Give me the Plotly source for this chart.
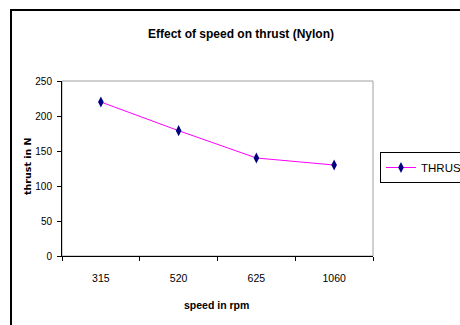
import plotly.graph_objects as go

speeds = ["315", "520", "625", "1060"]
thrust = [220, 179, 140, 130]
series_name = "THRUST In N"
title_text = "Effect of speed on thrust (Nylon)"
x_title = "speed in rpm"
y_title = "thrust in N"

W, H = 460, 325
def px(x): return x / W
def py(y): return (H - y) / H

fig = go.Figure()
fig.add_trace(go.Scatter(
    x=speeds, y=thrust, mode="lines+markers", name=series_name,
    line=dict(color="#FF00FF", width=1),
    marker=dict(symbol="diamond-tall", size=8, color="#000080",
                line=dict(color="#000080", width=0)),
))

font = "Liberation Sans, Arial, sans-serif"
fig.update_layout(
    width=W, height=H,
    margin=dict(l=0, r=0, t=0, b=0, autoexpand=False),
    paper_bgcolor="white", plot_bgcolor="white",
    showlegend=True,
    legend=dict(x=px(380), y=py(167.5), xanchor="left", yanchor="middle",
                bordercolor="black", borderwidth=1, bgcolor="white",
                itemwidth=30,
                font=dict(family=font, size=11.5, color="black")),
    xaxis=dict(domain=[px(62), px(373)], type="category", range=[-0.5, 3.5],
               showline=True, linecolor="black", linewidth=1,
               ticks="outside", tickson="boundaries", ticklen=4, tickcolor="black",
               showgrid=False, zeroline=False, ticklabelstandoff=12,
               tickfont=dict(family=font, size=10.5, color="black")),
    yaxis=dict(domain=[py(256), py(81)], range=[0, 250], dtick=50,
               showline=True, linecolor="black", linewidth=1,
               ticks="outside", ticklen=4, tickcolor="black",
               showgrid=False, zeroline=False, ticklabelstandoff=3,
               tickfont=dict(family=font, size=10, color="black")),
    shapes=[
        dict(type="rect", xref="x domain", yref="y domain", x0=0, x1=1, y0=0, y1=1,
             line=dict(color="#a0a0a0", width=1), layer="below"),
        dict(type="rect", xref="paper", yref="paper", x0=px(11), x1=1.05,
             y0=-0.05, y1=py(10), line=dict(color="black", width=2)),
    ],
    annotations=[
        dict(text="<b>" + title_text + "</b>", xref="paper", yref="paper",
             x=px(241), y=py(34), showarrow=False, xanchor="center", yanchor="middle",
             font=dict(family=font, size=12, color="black")),
        dict(text="<b>" + x_title + "</b>", xref="paper", yref="paper",
             x=px(216), y=py(305), showarrow=False, xanchor="center", yanchor="middle",
             font=dict(family=font, size=10.5, color="black")),
        dict(text="<b>" + y_title + "</b>", xref="paper", yref="paper",
             x=px(27), y=py(166), showarrow=False, xanchor="center", yanchor="middle",
             textangle=-90,
             font=dict(family="DejaVu Sans, sans-serif", size=9.5, color="black")),
    ],
)

fig.write_html("out.html")
